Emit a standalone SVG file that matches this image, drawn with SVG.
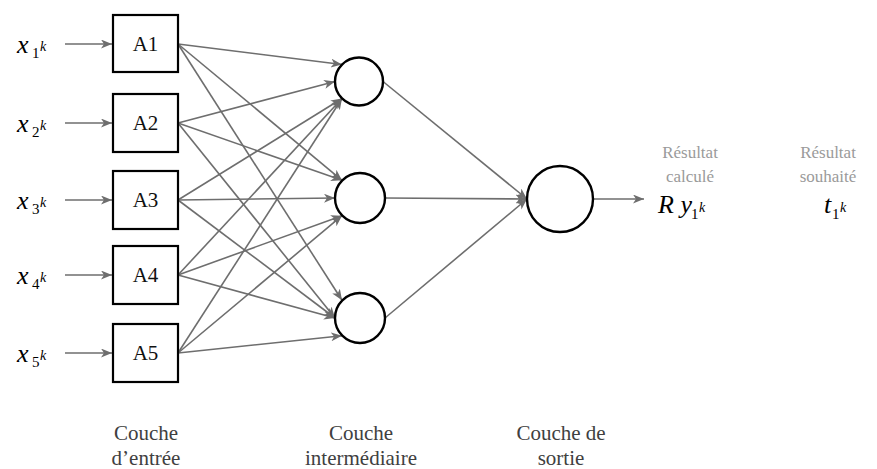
<svg xmlns="http://www.w3.org/2000/svg" width="877" height="469" viewBox="0 0 877 469">
<style>
text{font-family:"Liberation Serif","DejaVu Serif","Times New Roman",serif}
.box{fill:#fff;stroke:#000;stroke-width:2.2}
.node{fill:#fff;stroke:#000;stroke-width:2.4}
.lbl{font-size:21px;fill:#111;text-anchor:middle}
.cap{font-size:21px;fill:#404040;text-anchor:middle}
.res{font-size:17px;fill:#9a9a9a;text-anchor:middle}
.m{font-style:italic;font-size:26px;fill:#000}
.sub{font-style:normal;font-size:15px;fill:#000}
.sup{font-style:italic;font-size:14px;fill:#000}
.c line{stroke:#6e6e6e;stroke-width:1.6;marker-end:url(#ah)}
</style>
<defs>
<marker id="ah" markerUnits="userSpaceOnUse" markerWidth="12" markerHeight="10" refX="11" refY="4.5" orient="auto">
<path d="M0,0 L11,4.5 L0,9 L3,4.5 z" fill="#6e6e6e"/>
</marker>
</defs>

<g id="connectors" class="c">
<line x1="65" y1="44" x2="112" y2="44"/>
<line x1="65" y1="123" x2="112" y2="123"/>
<line x1="65" y1="200" x2="112" y2="200"/>
<line x1="65" y1="275" x2="112" y2="275"/>
<line x1="65" y1="353" x2="112" y2="353"/>

<line x1="178" y1="44" x2="342" y2="64.5"/>
<line x1="178" y1="123" x2="335" y2="81.5"/>
<line x1="178" y1="200" x2="342" y2="98.5"/>
<line x1="178" y1="275" x2="342" y2="98.5"/>
<line x1="178" y1="353" x2="342" y2="98.5"/>

<line x1="178" y1="44" x2="342" y2="180.3"/>
<line x1="178" y1="123" x2="342" y2="180.3"/>
<line x1="178" y1="200" x2="335" y2="198"/>
<line x1="178" y1="275" x2="342" y2="215.7"/>
<line x1="178" y1="353" x2="342" y2="215.7"/>

<line x1="178" y1="44" x2="342" y2="300.3"/>
<line x1="178" y1="123" x2="335" y2="318"/>
<line x1="178" y1="200" x2="335" y2="318"/>
<line x1="178" y1="275" x2="335" y2="318"/>
<line x1="178" y1="353" x2="342" y2="335.7"/>

<line x1="383" y1="81.5" x2="527" y2="199"/>
<line x1="385" y1="198" x2="527" y2="199"/>
<line x1="385" y1="318" x2="527" y2="199"/>

<line x1="593" y1="199" x2="644" y2="199"/>
</g>

<g id="x1"><text class="m" x="17" y="53">x</text><text class="sub" x="32" y="58">1</text><text class="sup" x="40" y="51">k</text></g>
<g id="x2"><text class="m" x="17" y="132">x</text><text class="sub" x="32" y="137">2</text><text class="sup" x="40" y="130">k</text></g>
<g id="x3"><text class="m" x="17" y="209">x</text><text class="sub" x="32" y="214">3</text><text class="sup" x="40" y="207">k</text></g>
<g id="x4"><text class="m" x="17" y="284">x</text><text class="sub" x="32" y="289">4</text><text class="sup" x="40" y="282">k</text></g>
<g id="x5"><text class="m" x="17" y="362">x</text><text class="sub" x="32" y="367">5</text><text class="sup" x="40" y="360">k</text></g>

<g id="A1"><rect class="box" x="113" y="15" width="65" height="57"/><text class="lbl" x="145.5" y="51">A1</text></g>
<g id="A2"><rect class="box" x="113" y="94" width="65" height="58"/><text class="lbl" x="145.5" y="130">A2</text></g>
<g id="A3"><rect class="box" x="113" y="171" width="65" height="58"/><text class="lbl" x="145.5" y="207">A3</text></g>
<g id="A4"><rect class="box" x="113" y="246" width="65" height="58"/><text class="lbl" x="145.5" y="282">A4</text></g>
<g id="A5"><rect class="box" x="113" y="324" width="65" height="58"/><text class="lbl" x="145.5" y="360">A5</text></g>

<g id="H1"><circle class="node" cx="359" cy="81.5" r="24"/></g>
<g id="H2"><circle class="node" cx="360" cy="198" r="25"/></g>
<g id="H3"><circle class="node" cx="360" cy="318" r="25"/></g>
<g id="O1"><circle class="node" cx="560" cy="199" r="33"/></g>

<g id="Ry"><text class="m" x="658" y="213">R y</text><text class="sub" x="691" y="219">1</text><text class="sup" x="699" y="212">k</text></g>
<g id="t1"><text class="m" x="824" y="213">t</text><text class="sub" x="832" y="219">1</text><text class="sup" x="840" y="212">k</text></g>

<g id="res-calc"><text class="res" x="690" y="158">Résultat</text><text class="res" x="690" y="182">calculé</text></g>
<g id="res-souh"><text class="res" x="828" y="158">Résultat</text><text class="res" x="828" y="182">souhaité</text></g>

<g id="cap-in"><text class="cap" x="146" y="440">Couche</text><text class="cap" x="146" y="465">d’entrée</text></g>
<g id="cap-mid"><text class="cap" x="361" y="440">Couche</text><text class="cap" x="361" y="465">intermédiaire</text></g>
<g id="cap-out"><text class="cap" x="561" y="440">Couche de</text><text class="cap" x="561" y="465">sortie</text></g>
</svg>
